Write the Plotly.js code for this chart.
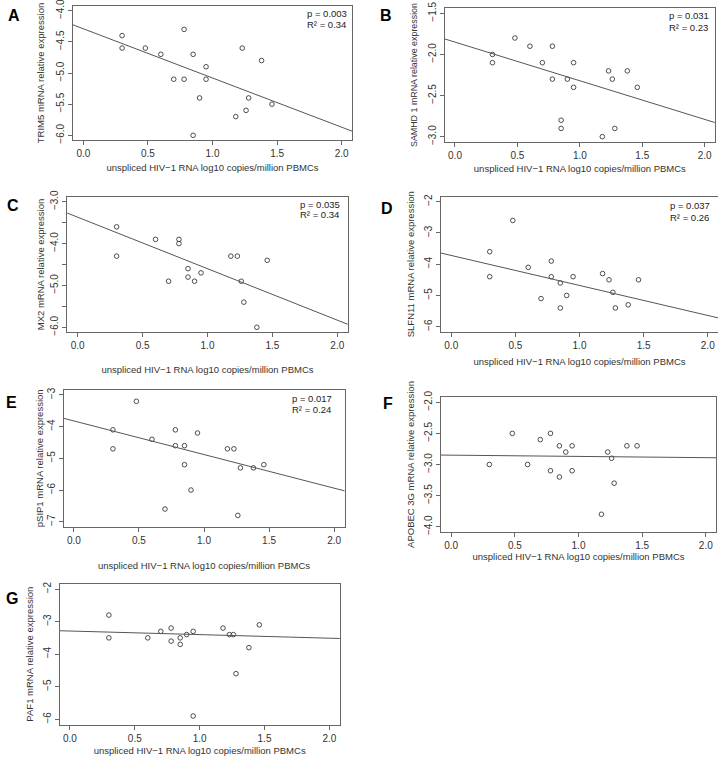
<!DOCTYPE html>
<html><head><meta charset="utf-8">
<script src="https://cdn.plot.ly/plotly-3.0.1.min.js"></script>
<style>html,body{margin:0;padding:0;background:#fff}#chart{width:718px;height:757px}</style>
</head><body><div id="chart"></div>
<script>
// ---- data ----
const xA = [0.30,0.30,0.48,0.60,0.70,0.78,0.78,0.85,0.85,0.90,0.95,0.95,1.18,1.23,1.26,1.28,1.38,1.46];
const yA = [-4.4,-4.6,-4.6,-4.7,-5.1,-4.3,-5.1,-4.7,-6.0,-5.4,-4.9,-5.1,-5.7,-4.6,-5.6,-5.4,-4.8,-5.5];
const xB = [0.30,0.30,0.48,0.60,0.70,0.78,0.78,0.85,0.85,0.90,0.95,0.95,1.18,1.23,1.26,1.28,1.38,1.46];
const yB = [-2.0,-2.1,-1.8,-1.9,-2.1,-1.9,-2.3,-2.8,-2.9,-2.3,-2.1,-2.4,-3.0,-2.2,-2.3,-2.9,-2.2,-2.4];
const xC = [0.30,0.30,0.60,0.70,0.78,0.78,0.85,0.85,0.90,0.95,1.18,1.23,1.26,1.28,1.38,1.46];
const yC = [-3.6,-4.3,-3.9,-4.9,-3.9,-4.0,-4.6,-4.8,-4.9,-4.7,-4.3,-4.3,-4.9,-5.4,-6.0,-4.4];
const xD = [0.30,0.30,0.48,0.60,0.70,0.78,0.78,0.85,0.85,0.90,0.95,1.18,1.23,1.26,1.28,1.38,1.46];
const yD = [-3.6,-4.4,-2.6,-4.1,-5.1,-3.9,-4.4,-4.6,-5.4,-5.0,-4.4,-4.3,-4.5,-4.9,-5.4,-5.3,-4.5];
const xE = [0.30,0.30,0.48,0.60,0.70,0.78,0.78,0.85,0.85,0.90,0.95,1.18,1.23,1.26,1.28,1.38,1.46];
const yE = [-4.1,-4.7,-3.2,-4.4,-6.6,-4.1,-4.6,-4.6,-5.2,-6.0,-4.2,-4.7,-4.7,-6.8,-5.3,-5.3,-5.2];
const xF = [0.30,0.48,0.60,0.70,0.78,0.78,0.85,0.85,0.90,0.95,0.95,1.18,1.23,1.26,1.28,1.38,1.46];
const yF = [-3.0,-2.5,-3.0,-2.6,-2.5,-3.1,-2.7,-3.2,-2.8,-2.7,-3.1,-3.8,-2.8,-2.9,-3.3,-2.7,-2.7];
const xG = [0.30,0.30,0.60,0.70,0.78,0.78,0.85,0.85,0.90,0.95,0.95,1.18,1.23,1.26,1.28,1.38,1.46];
const yG = [-2.8,-3.5,-3.5,-3.3,-3.2,-3.6,-3.5,-3.7,-3.4,-3.3,-5.9,-3.2,-3.4,-3.4,-4.6,-3.8,-3.1];

// fitted regression lines (intercept, slope) as drawn in the reference
const intercepts = [-4.29,-1.85,-3.37,-3.72,-3.82,-2.85,-3.29];
const slopes     = [-0.79,-0.47,-1.23,-0.96,-1.06,-0.02,-0.11];

const panelLetters = ['A','B','C','D','E','F','G'];
const yTitles = ['TRIM5 mRNA relative expression','SAMHD 1 mRNA relative expression',
  'MX2 mRNA relative expression','SLFN11 mRNA relative expression',
  'pSIP1 mRNA relative expression','APOBEC 3G mRNA relative expression','PAF1 mRNA relative expression'];
const xTitle = 'unspliced HIV\u22121 RNA log10 copies/million PBMCs';
const pValues  = ['0.003','0.031','0.035','0.037','0.017',null,null];
const r2Values = ['0.34','0.23','0.34','0.26','0.24',null,null];

const xTickVals = [0,0.5,1,1.5,2];
const xTickText = ['0.0','0.5','1.0','1.5','2.0'];
const yTickValsA = [-6,-5.5,-5,-4.5,-4];   const yTickTextA = ['\u22126.0','\u22125.5','\u22125.0','\u22124.5','\u22124.0'];
const yTickValsB = [-3,-2.5,-2,-1.5];      const yTickTextB = ['\u22123.0','\u22122.5','\u22122.0','\u22121.5'];
const yTickValsC = [-6,-5.5,-5,-4.5,-4,-3.5,-3]; const yTickTextC = ['\u22126.0','','\u22125.0','','\u22124.0','','\u22123.0'];
const yTickValsD = [-6,-5,-4,-3,-2];       const yTickTextD = ['\u22126','\u22125','\u22124','\u22123','\u22122'];
const yTickValsE = [-7,-6,-5,-4,-3];       const yTickTextE = ['\u22127','\u22126','\u22125','\u22124','\u22123'];
const yTickValsF = [-4,-3.5,-3,-2.5,-2];   const yTickTextF = ['\u22124.0','\u22123.5','\u22123.0','\u22122.5','\u22122.0'];
const yTickValsG = [-6,-5,-4,-3,-2];       const yTickTextG = ['\u22126','\u22125','\u22124','\u22123','\u22122'];

// ---- layout (pixel geometry) ----
const W = 718, H = 757;
const FONT = 'Liberation Sans, Arial, Helvetica, sans-serif';
const xs = [xA,xB,xC,xD,xE,xF,xG];
const ys = [yA,yB,yC,yD,yE,yF,yG];
const yTV = [yTickValsA,yTickValsB,yTickValsC,yTickValsD,yTickValsE,yTickValsF,yTickValsG];
const yTT = [yTickTextA,yTickTextB,yTickTextC,yTickTextD,yTickTextE,yTickTextF,yTickTextG];
// box: left, right, top, bottom (px); yRange
const boxes = [
  {l:73,   r:352,   t:5.7,   b:140.3, yr:[-6.08,-3.92], xs:6,  ys:8, yf:9.5, letter:[13.5,15],  pr:[305,13.3,24]},
  {l:445,  r:714.7, t:8.4,   b:141.6, yr:[-3.06,-1.44], xs:5,  ys:7, yf:8.9, letter:[386,15],   pr:[667.3,16,27.3]},
  {l:67.3, r:347.7, t:196.7, b:332.3, yr:[-6.12,-2.88], xs:16, ys:2, yf:9.5, letter:[12.5,205], pr:[297.7,204,214.5]},
  {l:441,  r:718,   t:196.7, b:331.7, yr:[-6.16,-1.84], xs:8,  ys:6, yf:9.5, letter:[386.5,208],pr:[668,206,217.3]},
  {l:63.5, r:344.5, t:389.9, b:526.8, yr:[-7.16,-2.84], xs:17, ys:0, yf:9.5, letter:[11.7,402.5],pr:[290,398.3,409]},
  {l:441,  r:716,   t:397.3, b:531.7, yr:[-4.08,-1.92], xs:3,  ys:6, yf:9.5, letter:[388,403],  pr:null},
  {l:59.6, r:339.7, t:583.8, b:724.5, yr:[-6.16,-1.84], xs:4,  ys:6, yf:9.5, letter:[12,598],   pr:null}
];
const XR = [-0.08, 2.08];
const px = v => v / W, py = v => 1 - v / H;

const data = [];
const layout = {
  width: W, height: H, margin: {l:0,r:0,t:0,b:0},
  paper_bgcolor: '#fff', plot_bgcolor: '#fff', showlegend: false,
  font: {family: FONT, color: '#333'},
  annotations: []
};

boxes.forEach((bx, i) => {
  const n = i + 1;
  const xa = 'x' + n, ya = 'y' + n;
  data.push({
    type: 'scatter', mode: 'markers', x: xs[i], y: ys[i], xaxis: xa, yaxis: ya,
    marker: {symbol: 'circle-open', size: 4.6, color: '#3a3a3a', line: {width: 0.9, color: '#3a3a3a'}},
    hoverinfo: 'x+y'
  });
  const lx = [XR[0] - 0.05, XR[1] + 0.05];
  data.push({
    type: 'scatter', mode: 'lines', x: lx, y: lx.map(v => intercepts[i] + slopes[i] * v),
    xaxis: xa, yaxis: ya, line: {color: '#555', width: 1}, hoverinfo: 'skip'
  });
  const common = {showline: true, mirror: true, linecolor: '#666', linewidth: 1,
    ticks: 'outside', ticklen: 4, tickwidth: 1, tickcolor: '#666', ticklabeloverflow: 'allow',
    showgrid: false, zeroline: false, tickfont: {size: 10, color: '#333', family: FONT}};
  layout['xaxis' + n] = Object.assign({}, common, {
    domain: [px(bx.l), px(bx.r)], anchor: ya, range: XR,
    tickmode: 'array', tickvals: xTickVals, ticktext: xTickText,
    title: {text: xTitle, font: {size: 9.5, color: '#333', family: FONT}, standoff: bx.xs}
  });
  layout['yaxis' + n] = Object.assign({}, common, {
    domain: [py(bx.b), py(bx.t)], anchor: xa, range: bx.yr, tickangle: -90,
    tickmode: 'array', tickvals: yTV[i], ticktext: yTT[i],
    title: {text: yTitles[i], font: {size: bx.yf, color: '#333', family: FONT}, standoff: bx.ys}
  });
  layout.annotations.push({
    xref: 'paper', yref: 'paper', x: px(bx.letter[0]), y: py(bx.letter[1]),
    xanchor: 'center', yanchor: 'middle', showarrow: false,
    text: '<b>' + panelLetters[i] + '</b>', font: {size: 16, color: '#000', family: FONT}
  });
  if (bx.pr && pValues[i]) {
    layout.annotations.push({
      xref: 'paper', yref: 'paper', x: px(bx.pr[0]), y: py(bx.pr[1]),
      xanchor: 'left', yanchor: 'middle', showarrow: false,
      text: 'p = ' + pValues[i], font: {size: 9.5, color: '#222', family: FONT}
    });
    layout.annotations.push({
      xref: 'paper', yref: 'paper', x: px(bx.pr[0]), y: py(bx.pr[2]),
      xanchor: 'left', yanchor: 'middle', showarrow: false,
      text: 'R\u00b2 = ' + r2Values[i], font: {size: 9.5, color: '#222', family: FONT}
    });
  }
});

Plotly.newPlot('chart', data, layout, {staticPlot: true, displayModeBar: false});
</script>
</body></html>
